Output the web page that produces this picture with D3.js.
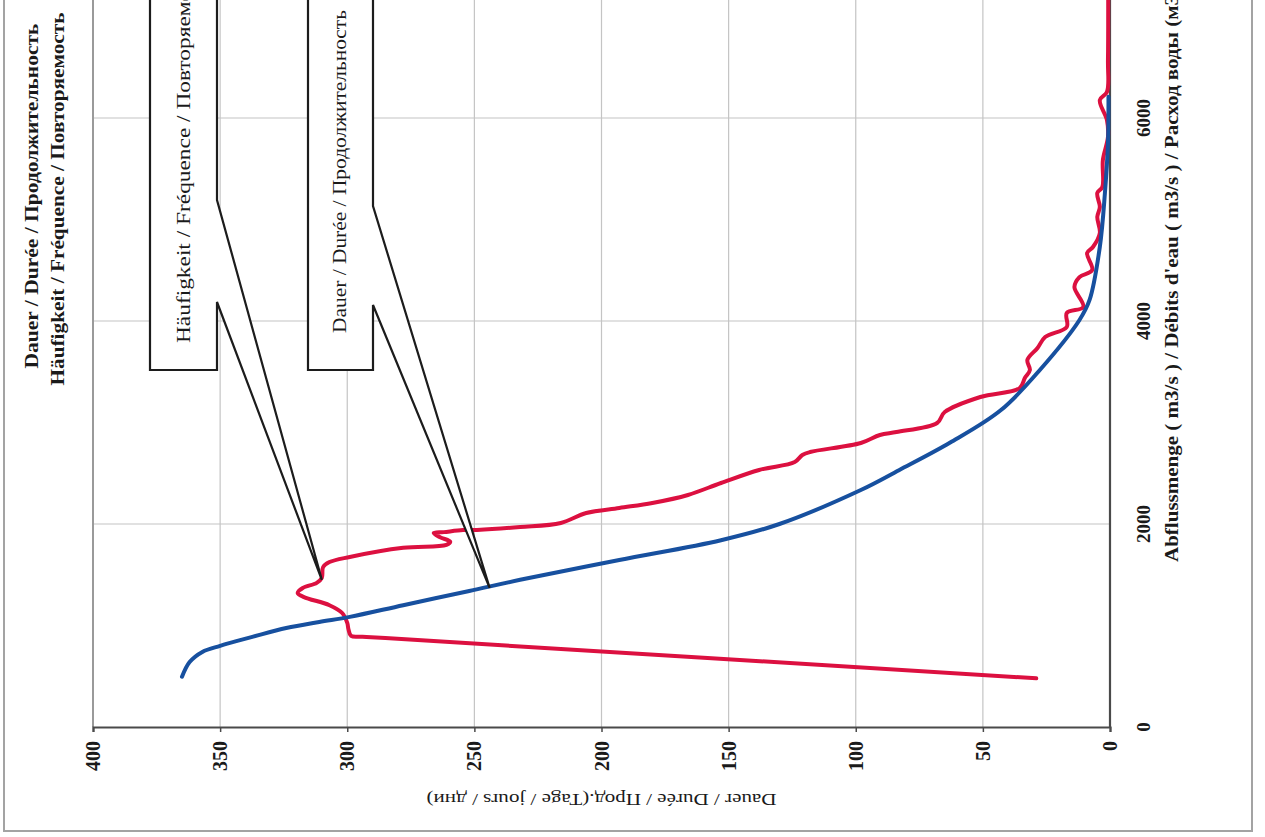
<!DOCTYPE html>
<html><head><meta charset="utf-8">
<script src="https://cdn.jsdelivr.net/npm/d3@7"></script>
<style>
html,body{margin:0;padding:0;background:#fff;}
svg{display:block;}
text{font-family:"Liberation Serif","Times New Roman",serif;fill:#1a1a1a;}
</style></head>
<body>
<svg id="c" width="1265" height="837"></svg>
<script>
// ---- data (days, discharge m3/s) ----
const dayTicks = [0, 50, 100, 150, 200, 250, 300, 350, 400];
const flowTicks = [0, 2000, 4000, 6000, 8000];
const titleLines = ["Dauer / Durée / Продолжительность", "Häufigkeit / Fréquence / Повторяемость"];
const xTitle = "Dauer / Durée / Прод.(Tage / jours / дни)";
const yTitle = "Abflussmenge  ( m3/s ) / Débits d'eau ( m3/s ) / Расход воды (м3/s)";
const calloutFreqText = "Häufigkeit /  Fréquence / Повторяемость";
const calloutDurText = "Dauer / Durée / Продолжительность";

// duration curve (Dauer) : [days, discharge]
const durationSeries = [
  [365,495],[362,640],[357,740],[350,800],[337,890],[324,975],[311,1035],[299,1085],
  [278,1200],[252,1340],[232,1450],[193,1645],[153,1840],[130,2000],[98,2335],
  [83,2530],[63,2800],[43,3120],[27.5,3520],[12,4010],[8,4210],[4,4730],[2,5260],
  [0.8,5750],[0.6,6210]
];
// frequency curve (Häufigkeit) : [days, discharge]
const frequencySeries = [
  [29,480],[285,876],[294,890],[298.5,897],[299.5,960],[300,1025],[302,1123],[307,1200],
  [317,1280],[319.5,1320],
  [317.5,1370],[312,1420],[310,1470],[309.5,1575],[307,1625],[299,1675],[278,1765],
  [261,1795],[259.5,1825],[263.5,1870],[266,1910],[262,1920],[254.5,1940],[249,1942],
  [232,1970],[216,2010],[206,2108],[193,2158],[180,2207],[166,2286],[153,2404],
  [138,2532],[124,2611],[121,2680],[118,2709],[98,2798],[90.5,2877],[84,2906],
  [68,2995],[65,3103],[51,3251],[35.5,3340],[33.5,3438],[31.5,3517],[32.5,3616],
  [28.5,3734],[25.5,3842],[17,3941],[17,4079],[10.5,4138],[14,4335],[12,4433],
  [7,4502],[9,4670],[6.7,4729],[4,4867],[5,5025],[4,5123],[5,5261],[3,5320],
  [2.8,5586],[0.8,5813],[1.2,5980],[4,6177],[1.2,6256],[0.8,6571],[0.8,8000]
];
const anchorFreq = [310, 1450];
const anchorDur = [244, 1370];

// ---- layout ----
const svg = d3.select("#c");
const x = d3.scaleLinear().domain([0, 400]).range([1110, 93]);
const y = d3.scaleLinear().domain([0, 6000]).range([727, 118]);
const plotTop = y(8000);

// outer frame
svg.append("rect").attr("x", 4).attr("y", -20).attr("width", 1248).attr("height", 851)
  .attr("fill", "none").attr("stroke", "#a3a3a3").attr("stroke-width", 2);

// gridlines
const grid = svg.append("g");
dayTicks.filter(d => d > 0 && d < 400).forEach(d => {
  grid.append("line").attr("x1", x(d)).attr("x2", x(d)).attr("y1", plotTop).attr("y2", y(0))
    .attr("stroke", "#c4c4c4").attr("stroke-width", 1.2);
});
flowTicks.filter(q => q > 0).forEach(q => {
  grid.append("line").attr("x1", x(400)).attr("x2", x(0)).attr("y1", y(q)).attr("y2", y(q))
    .attr("stroke", "#c4c4c4").attr("stroke-width", 1.2);
});
// left border of plot (400 days)
svg.append("line").attr("x1", x(400)).attr("x2", x(400)).attr("y1", plotTop).attr("y2", y(0))
  .attr("stroke", "#9a9a9a").attr("stroke-width", 2);

// axes
const xAxis = svg.append("g").attr("transform", `translate(0,${y(0)})`)
  .call(d3.axisBottom(x).tickValues(dayTicks).tickSize(5).tickFormat(""));
xAxis.select(".domain").attr("stroke", "#4a4a4a").attr("stroke-width", 2.2);
xAxis.selectAll(".tick line").attr("stroke", "#4a4a4a").attr("stroke-width", 1.5);
const yAxis = svg.append("g").attr("transform", `translate(${x(0)},0)`)
  .call(d3.axisRight(y).tickValues(flowTicks).tickSize(0).tickFormat(""));
yAxis.select(".domain").attr("stroke", "#4a4a4a").attr("stroke-width", 2.2)
  .attr("d", `M0,${plotTop}V${y(0)}`);

// tick labels (rotated, as in the scanned figure)
svg.append("g").selectAll("text").data(dayTicks).join("text")
  .attr("transform", d => `translate(${x(d) + 7},741) rotate(-90)`)
  .attr("text-anchor", "end").attr("font-size", 20).attr("font-weight", "bold")
  .text(d => d);
svg.append("g").selectAll("text").data(flowTicks.filter(q => q <= 6000)).join("text")
  .attr("transform", q => `translate(1150,${y(q)}) rotate(-90)`)
  .attr("text-anchor", "middle").attr("font-size", 19).attr("font-weight", "bold")
  .text(q => q);

// axis titles
svg.append("text").attr("transform", `translate(${(x(0) + x(400)) / 2},794) rotate(180)`)
  .attr("text-anchor", "middle").attr("font-size", 17)
  .attr("textLength", 350).attr("lengthAdjust", "spacingAndGlyphs").text(xTitle);
svg.append("text").attr("transform", "translate(1178,562) rotate(-90)")
  .attr("text-anchor", "start").attr("font-size", 19).attr("font-weight", "bold")
  .attr("textLength", 588).attr("lengthAdjust", "spacingAndGlyphs").text(yTitle);

// chart title
svg.append("text").attr("transform", "translate(38,196) rotate(-90)")
  .attr("text-anchor", "middle").attr("font-size", 18).attr("font-weight", "bold")
  .attr("textLength", 345).attr("lengthAdjust", "spacingAndGlyphs").text(titleLines[0]);
svg.append("text").attr("transform", "translate(64,199) rotate(-90)")
  .attr("text-anchor", "middle").attr("font-size", 18).attr("font-weight", "bold")
  .attr("textLength", 373).attr("lengthAdjust", "spacingAndGlyphs").text(titleLines[1]);

// series
svg.append("clipPath").attr("id", "pc").append("rect")
  .attr("x", x(400)).attr("y", plotTop).attr("width", x(0) - x(400) + 2).attr("height", y(0) - plotTop);
const line = d3.line().x(d => x(d[0])).y(d => y(d[1])).curve(d3.curveCatmullRom.alpha(0.5));
const series = svg.append("g").attr("clip-path", "url(#pc)");
series.append("path").datum(frequencySeries).attr("d", line).attr("fill", "none")
  .attr("stroke", "#dc1040").attr("stroke-width", 4).attr("stroke-linejoin", "round").attr("stroke-linecap", "round");
series.append("path").datum(durationSeries).attr("d", line).attr("fill", "none")
  .attr("stroke", "#17509f").attr("stroke-width", 4).attr("stroke-linejoin", "round").attr("stroke-linecap", "round");

// callouts
function callout(left, right, bottom, notchTop, notchBot, anchor, label, baseX, startY, len) {
  const ax = x(anchor[0]), ay = y(anchor[1]);
  const p = `M${right},-20 V${notchTop} L${ax},${ay} L${right},${notchBot} V${bottom} H${left} V-20`;
  svg.append("path").attr("d", p).attr("fill", "#fff").attr("stroke", "#1c1c1c").attr("stroke-width", 2.2)
    .attr("stroke-linejoin", "miter");
  svg.append("text").attr("transform", `translate(${baseX},${startY}) rotate(-90)`)
    .attr("text-anchor", "start").attr("font-size", 19)
    .attr("textLength", len).attr("lengthAdjust", "spacingAndGlyphs").text(label);
}
callout(150, 217, 370, 200, 302, anchorFreq, calloutFreqText, 190, 343, 385);
callout(308, 373, 370, 206, 305, anchorDur, calloutDurText, 346, 333, 323);
</script>
</body></html>
